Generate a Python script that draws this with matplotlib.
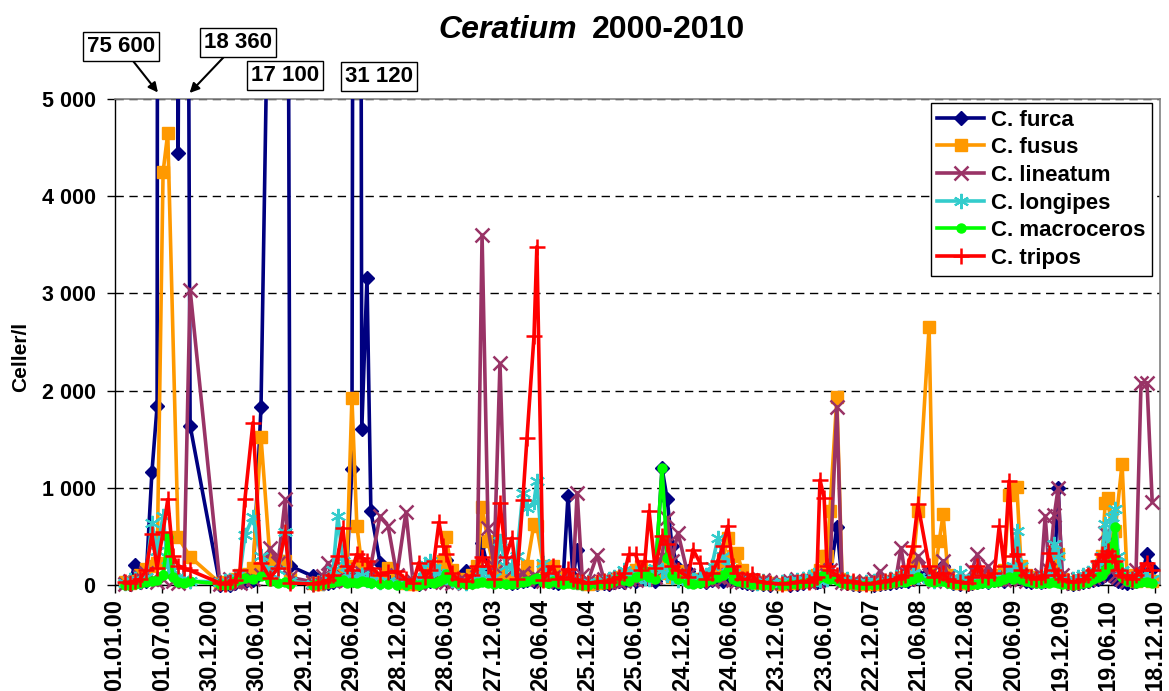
import matplotlib

matplotlib.use("Agg")
import matplotlib.pyplot as plt
import numpy as np
import pandas as pd
from matplotlib.lines import Line2D

nan = np.nan

# Sampling dates and cell counts (cells per litre) for each Ceratium species.
# nan = no usable count for that species on that date.
sample_dates = [
    # 2000
    "2000-02-08", "2000-02-27", "2000-03-17", "2000-04-06", "2000-04-29", "2000-05-22",
    "2000-06-11", "2000-07-04", "2000-07-22", "2000-08-11", "2000-08-31", "2000-09-22",
    "2000-10-16",
    # 2001
    "2001-02-08", "2001-02-28", "2001-03-19", "2001-04-07", "2001-04-26", "2001-05-15",
    "2001-06-15", "2001-07-16", "2001-08-20", "2001-09-20", "2001-10-17", "2001-11-05",
    # 2002
    "2002-02-01", "2002-02-20", "2002-03-11", "2002-03-31", "2002-04-19", "2002-05-08",
    "2002-05-27", "2002-06-11", "2002-07-01", "2002-07-20", "2002-08-08", "2002-08-28",
    "2002-09-12", "2002-10-17", "2002-11-17", "2002-12-21",
    # 2003
    "2003-01-25", "2003-02-21", "2003-03-16", "2003-04-08", "2003-04-28", "2003-05-13",
    "2003-06-01", "2003-06-17", "2003-06-28", "2003-07-21", "2003-08-13", "2003-09-13",
    "2003-10-06", "2003-10-26", "2003-11-14", "2003-12-07", "2003-12-30",
    # 2004
    "2004-01-22", "2004-02-14", "2004-03-08", "2004-03-27", "2004-04-19", "2004-05-05",
    "2004-06-01", "2004-06-12", "2004-07-06", "2004-07-25", "2004-08-13", "2004-09-01",
    "2004-09-21", "2004-10-10", "2004-10-29", "2004-11-14", "2004-12-03", "2004-12-26",
    # 2005
    "2005-01-30", "2005-02-25", "2005-03-18", "2005-04-06", "2005-04-26", "2005-05-15",
    "2005-06-01", "2005-06-27", "2005-07-16", "2005-08-02", "2005-08-18", "2005-09-10",
    "2005-10-07", "2005-10-27", "2005-11-14", "2005-12-07",
    # 2006
    "2006-01-15", "2006-02-03", "2006-03-02", "2006-03-25", "2006-04-17", "2006-05-10",
    "2006-05-29", "2006-06-17", "2006-07-07", "2006-07-23", "2006-08-11", "2006-08-30",
    "2006-09-19", "2006-10-08", "2006-10-31", "2006-11-27",
    # 2007
    "2007-01-12", "2007-02-12", "2007-03-11", "2007-04-03", "2007-04-26", "2007-05-15",
    "2007-05-26", "2007-06-07", "2007-06-23", "2007-07-04", "2007-07-15", "2007-08-11",
    "2007-08-31", "2007-09-19", "2007-10-12", "2007-11-04", "2007-12-01",
    # 2008
    "2008-01-01", "2008-01-24", "2008-02-12", "2008-03-02", "2008-03-25", "2008-04-14",
    "2008-04-29", "2008-05-11", "2008-05-30", "2008-06-18", "2008-07-31", "2008-08-19",
    "2008-09-08", "2008-09-23", "2008-10-12", "2008-11-01", "2008-11-28", "2008-12-28",
    # 2009
    "2009-01-12", "2009-02-01", "2009-02-20", "2009-03-15", "2009-04-08", "2009-04-27",
    "2009-05-16", "2009-06-04", "2009-06-19", "2009-07-04", "2009-07-20", "2009-08-08",
    "2009-08-27", "2009-09-15", "2009-10-05", "2009-10-21", "2009-11-05", "2009-11-25",
    "2009-12-10", "2009-12-25",
    # 2010
    "2010-01-17", "2010-02-05", "2010-02-25", "2010-03-16", "2010-04-04", "2010-04-24",
    "2010-05-13", "2010-05-28", "2010-06-09", "2010-06-20", "2010-07-05", "2010-07-17",
    "2010-07-29", "2010-08-13", "2010-09-01", "2010-09-21", "2010-10-06", "2010-10-25",
    "2010-11-17", "2010-12-07",
]

furca = [
    20, 10, 210, 30, 40, 1160, 1840, 75600, nan, nan, 4440, 18360, 1640,
    0, 10, 0, 20, 40, 30, 50, 1830, nan, nan, 17100, 195,
    90, 60, 40, 20, 30, 50, 70, 150, 1190, 31120, 1600, 3160, 760, 230, 80, 40,
    30, 20, 10, 30, 40, 60, 100, 130, 255, 60, 40, 140, 60, 90, 430, 165, 60,
    40, 30, 20, 30, 40, 50, 40, 50, 60, 40, 30, 20, 50, 920, 80, 360, 40, 20,
    10, 20, 10, 30, 40, 30, 50, 40, 60, 80, 60, 40, 1200, 880, 400, 180,
    145, 60, 40, 30, 50, 60, 40, 80, 60, 40, 30, 20, 10, 20, 10, 0,
    10, 0, 10, 20, 30, 40, 30, 40, 50, 60, 80, 600, 40, 20, 10, 0, 10,
    0, 10, 20, 20, 30, 40, 50, 40, 60, 100, 130, 60, 80, 195, 60, 20, 10, 10,
    20, 30, 40, 30, 50, 60, 40, 80, 100, 80, 60, 40, 30, 40, 30, 40, 60, 100, 1000, 80,
    20, 10, 20, 30, 40, 50, 60, 80, 100, 120, 80, 60, 40, 30, 20, 30, 40, 60, 320, 160,
]

fusus = [
    30, 20, 40, 100, 160, 200, 230, 4250, 4650, nan, 490, nan, 290,
    20, 30, 40, 60, 100, 110, 180, 1520, 260, 250, 250, 60,
    20, 10, 30, 40, 60, 80, 120, 200, 1925, 610, 200, 110, 90, 60, 180, 50,
    20, 10, 30, 60, 120, 90, 150, 250, 490, 150, 60, 40, 100, 200, 805, 450, 165,
    100, 60, 40, 60, 100, 200, 630, 610, 200, 150, 200, 80, 40, 60, 40, 30, 20, 10,
    20, 30, 40, 60, 80, 90, 100, 150, 200, 120, 80, 140, 230, 120, 80, 145,
    60, 40, 60, 80, 100, 180, 250, 485, 300, 330, 150, 60, 40, 20, 30, 20,
    10, 20, 30, 40, 50, 80, 100, 150, 300, 300, 760, 1930, 60, 30, 20, 10, 20,
    10, 20, 30, 40, 50, 80, 60, 80, 200, 760, 2650, 50, 450, 730, 100, 40, 20, 20,
    30, 60, 80, 60, 80, 100, 150, 930, nan, 1010, 200, 100, 60, 80, 40, 60, 80, 150, 315, 60,
    30, 20, 40, 50, 80, 100, 200, 300, 845, 895, 500, 555, nan, 1250, 100, 60, 40, 60, 60, 40,
]

lineatum = [
    10, 40, 30, 80, 120, 60, 30, 60, 100, 40, 20, 40, 3040,
    10, 20, 60, 30, 20, 40, 60, 100, 380, 230, 880, 80,
    30, 20, 90, 230, 40, 60, 80, 50, 100, 80, 120, 60, 200, 710, 610, 100,
    750, 40, 20, 50, 30, 80, 60, 40, 30, 20, 40, 30, 50, 80, 3600, 590, 200,
    2280, 250, 150, 80, 120, 60, 100, 60, 40, 60, 80, 40, 60, 100, 60, 950, 100, 40,
    310, 60, 30, 50, 30, 40, 60, 50, 80, 60, 100, 80, 300, 690, 250, 540,
    100, 60, 40, 60, 40, 80, 60, 100, 50, 40, 30, 60, 40, 20, 50, 30,
    20, 40, 60, 40, 30, 50, 40, 60, 80, 100, 150, 1830, 30, 20, 40, 20, 30,
    60, 145, 60, 40, 60, 385, 120, 60, 80, 300, 100, 40, 80, 250, 80, 40, 30, 60,
    150, 315, 100, 195, 80, 60, 50, 60, 80, 100, 60, 40, 80, 60, 100, 710, 150, 720, 1000, 100,
    40, 20, 60, 40, 60, 80, 100, 200, 540, 300, 150, 100, 80, 60, 40, 60, 150, 2080, 2080, 850,
]

longipes = [
    20, 50, 60, 40, 80, 640, 350, 710, 200, 150, 80, 60, 40,
    30, 40, 20, 80, 120, 510, 700, 300, 120, 150, 550, 40,
    10, 30, 20, 60, 150, 710, 250, 120, 80, 60, 100, 50, 40, 30, 40, 30,
    20, 30, 50, 220, 250, 180, 120, 90, 80, 50, 30, 20, 40, 60, 150, 100, 80,
    450, 200, 180, 300, 950, 790, 850, 1070, 230, 100, 80, 50, 40, 60, 40, 30, 20, 30,
    20, 40, 60, 80, 100, 150, 80, 120, 90, 70, 60, 180, 150, 100, 80, 50,
    40, 50, 80, 100, 200, 485, 300, 200, 120, 80, 60, 40, 30, 20, 40, 20,
    30, 40, 50, 60, 80, 100, 60, 50, 80, 60, 100, 80, 40, 60, 30, 20, 30,
    40, 30, 40, 60, 80, 60, 80, 100, 120, 80, 60, 40, 60, 80, 50, 30, 125, 40,
    60, 50, 60, 40, 60, 80, 100, 150, 200, 555, 200, 100, 60, 50, 40, 80, 100, 420, 300, 60,
    40, 60, 80, 100, 120, 150, 200, 300, 625, 400, 700, 780, 300, 150, 100, 60, 80, 100, 80, 60,
]

macroceros = [
    0, 5, 10, 20, 30, 40, 50, 100, 490, 80, 30, 20, 40,
    10, 0, 10, 40, 60, 70, 60, 90, 40, 20, 30, 10,
    0, 10, 10, 20, 30, 40, 50, 20, 30, 20, 40, 30, 20, 10, 10, 0,
    0, 10, 0, 20, 30, 20, 40, 60, 110, 40, 20, 10, 10, 20, 30, 20, 10,
    20, 10, 10, 20, 30, 40, 60, 70, 30, 20, 40, 20, 10, 20, 10, 10, 0, 0,
    10, 10, 20, 40, 60, 50, 40, 80, 100, 140, 80, 60, 1200, 280, 100, 60,
    20, 10, 20, 40, 60, 80, 100, 140, 60, 40, 30, 20, 10, 10, 0, 0,
    0, 10, 10, 20, 30, 40, 60, 80, 100, 70, 60, 50, 20, 10, 10, 0, 0,
    0, 10, 10, 20, 30, 40, 30, 50, 60, 80, 40, 30, 40, 40, 20, 10, 10, 0,
    10, 10, 20, 20, 30, 40, 60, 80, 60, 100, 60, 40, 30, 20, 20, 30, 20, 30, 20, 10,
    10, 0, 10, 20, 30, 60, 80, 100, 150, 200, 400, 600, 200, 80, 40, 30, 20, 30, 30, 20,
]

tripos = [
    30, 20, 40, 60, 150, 520, 180, 550, 880, 300, 200, 170, 150,
    20, 10, 30, 50, 150, 880, 1670, 230, 70, 180, 550, 20,
    10, 20, 30, 50, 100, 300, 590, 200, 150, 315, 280, 250, 180, 100, 130, 140,
    60, 20, 230, 80, 150, 250, 645, 400, 315, 120, 60, 40, 100, 200, 290, 200, 60,
    840, 290, 485, 60, 875, 1515, 2560, 3480, 50, 120, 195, 60, 80, 165, 60, 40, 30, 20,
    30, 40, 30, 60, 80, 120, 315, 315, 150, 250, 760, 180, 505, 420, 200, 150,
    80, 365, 230, 60, 120, 250, 400, 605, 200, 120, 60, 60, 110, 40, 30, 20,
    10, 20, 30, 40, 30, 60, 80, 1080, 900, 200, 150, 100, 50, 30, 40, 20, 10,
    20, 30, 40, 50, 60, 80, 100, 195, 400, 830, 200, 80, 100, 120, 60, 40, 30, 20,
    80, 195, 100, 80, 120, 605, 200, 1070, 300, 315, 150, 100, 80, 60, 80, 100, 330, 150, 100, 60,
    40, 30, 40, 60, 100, 150, 250, 315, 250, 350, 300, 250, 150, 100, 80, 60, 100, 150, 230, 150,
]

series_names = ["C. furca", "C. fusus", "C. lineatum", "C. longipes", "C. macroceros", "C. tripos"]

x_tick_labels = [
    "01.01.00", "01.07.00", "30.12.00", "30.06.01", "29.12.01", "29.06.02",
    "28.12.02", "28.06.03", "27.12.03", "26.06.04", "25.12.04", "25.06.05",
    "24.12.05", "24.06.06", "23.12.06", "23.06.07", "22.12.07", "21.06.08",
    "20.12.08", "20.06.09", "19.12.09", "19.06.10", "18.12.10",
]
y_ticks = [0, 1000, 2000, 3000, 4000, 5000]
y_tick_labels = ["0", "1 000", "2 000", "3 000", "4 000", "5 000"]

Y_MAX = 5000
LINE_W = 2.6

# colour, marker, marker size, marker edge width
STYLES = {
    "C. furca": ("#000080", "D", 7.5, 1.0),
    "C. fusus": ("#FF9900", "s", 8.5, 1.0),
    "C. lineatum": ("#993366", "x", 10, 1.8),
    "C. longipes": ("#33CCCC", (6, 2, 0), 11, 1.5),
    "C. macroceros": ("#00FF00", "o", 6.5, 1.0),
    "C. tripos": ("#FF0000", "+", 12, 1.8),
}

# Offsets (points) of the value boxes for counts that run off the axis.
PEAK_BOX_OFFSETS = [(-30, 38), (39, 41), (0, 17), (16, 16)]
PEAK_ARROWS = [True, True, False, False]

plt.rcParams["font.family"] = ["Liberation Sans", "DejaVu Sans"]
plt.rcParams["font.weight"] = "bold"

fig = plt.figure(figsize=(11.69, 6.91), dpi=100)
ax = fig.add_axes([0.0984, 0.1534, 0.8939, 0.7033])

dates = pd.to_datetime(sample_dates)
all_values = [furca, fusus, lineatum, longipes, macroceros, tripos]

handles = []
for i, (name, values) in enumerate(zip(series_names, all_values)):
    color, marker, size, mew = STYLES[name]
    v = np.array(values, dtype=float)
    ok = ~np.isnan(v)
    z = 3 + i
    ax.plot(dates[ok], v[ok], color=color, lw=LINE_W, zorder=z)
    inside = ok & (v <= Y_MAX)
    ax.plot(dates[inside], v[inside], ls="none", marker=marker, ms=size,
            mfc=color, mec=color, mew=mew, clip_on=False, zorder=z + 0.5)
    handles.append(Line2D([], [], color=color, lw=LINE_W, marker=marker, ms=size,
                          mfc=color, mec=color, mew=mew))

# boxed labels for counts above the axis maximum
furca_arr = np.array(furca, dtype=float)
peak_idx = np.where(furca_arr > Y_MAX)[0]
for k, idx in enumerate(peak_idx):
    label = f"{int(furca_arr[idx]):,}".replace(",", " ")
    dx, dy = PEAK_BOX_OFFSETS[k]
    arrow = dict(arrowstyle="-|>", color="black", lw=1.5, mutation_scale=14,
                 shrinkA=0, shrinkB=6) if PEAK_ARROWS[k] else None
    ax.annotate(label, xy=(dates[idx], Y_MAX), xytext=(dx, dy),
                textcoords="offset points", ha="center", va="center",
                fontsize=16, fontweight="bold", annotation_clip=False,
                bbox=dict(boxstyle="square,pad=0.18", fc="white", ec="black", lw=1),
                arrowprops=arrow)

ax.set_ylim(0, Y_MAX)
ax.set_xlim(pd.Timestamp("2000-01-01"), pd.Timestamp("2011-01-06"))

tick_dates = pd.to_datetime(x_tick_labels, format="%d.%m.%y")
ax.set_xticks(tick_dates)
ax.set_xticklabels(x_tick_labels, rotation=90, fontsize=17, fontweight="bold")
ax.set_yticks(y_ticks)
ax.set_yticklabels(y_tick_labels, fontsize=15.5, fontweight="bold")
ax.tick_params(axis="both", direction="out", length=6, width=1, color="black")
ax.tick_params(axis="x", pad=4)
ax.tick_params(axis="y", pad=8)

ax.yaxis.grid(True, color="black", lw=1, ls=(0, (6, 4)))
ax.set_axisbelow(True)
for side in ("top", "right"):
    ax.spines[side].set_color("#808080")
    ax.spines[side].set_linewidth(1.2)
for side in ("left", "bottom"):
    ax.spines[side].set_color("black")
    ax.spines[side].set_linewidth(1)

ax.set_ylabel("Celler/l", fontsize=15, fontweight="bold")
ax.yaxis.set_label_coords(-0.081, 0.47)

leg = ax.legend(handles, series_names, loc="upper right", bbox_to_anchor=(0.992, 0.992),
                borderaxespad=0, fancybox=False, edgecolor="black", framealpha=1,
                prop={"size": 16, "weight": "bold"}, handlelength=2.1,
                handletextpad=0.3, labelspacing=0.3, borderpad=0.3)
leg.get_frame().set_linewidth(1)
leg.set_zorder(20)

fig.text(0.4935, 0.957, "Ceratium", ha="right", va="center", fontsize=23,
         fontweight="bold", fontstyle="italic")
fig.text(0.5065, 0.957, "2000-2010", ha="left", va="center", fontsize=23,
         fontweight="bold")

fig.savefig("out.png", dpi=100)
